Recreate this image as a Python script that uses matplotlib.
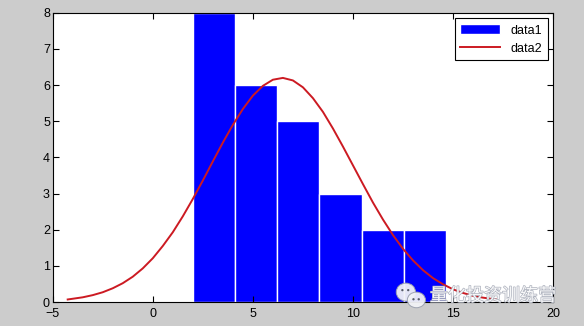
import matplotlib.pyplot as plt
import matplotlib.patheffects as pe
from matplotlib.patches import Ellipse

# histogram bins (edges) and counts
edges = [2.0, 4.1, 6.2, 8.3, 10.45, 12.55, 14.65]
counts = [8, 6, 5, 3, 2, 2]

# fitted curve
curve_x = [-4.25, -3.5, -3, -2.5, -2, -1.5, -1, -0.5, 0, 0.5, 1, 1.5, 2, 2.5, 3, 3.5,
           4, 4.5, 5, 5.5, 6, 6.5, 7, 7.5, 8, 8.5, 9, 9.5, 10, 10.5, 11, 11.5,
           12, 12.5, 13, 13.5, 14, 14.5, 15, 15.5, 16, 16.5, 17.15]
curve_y = [0.07, 0.13, 0.19, 0.27, 0.38, 0.52, 0.70, 0.93, 1.21, 1.55, 1.93, 2.37,
           2.85, 3.36, 3.89, 4.41, 4.90, 5.34, 5.71, 5.98, 6.15, 6.20, 6.13, 5.94,
           5.64, 5.26, 4.80, 4.30, 3.78, 3.26, 2.75, 2.28, 1.85, 1.47, 1.15, 0.88,
           0.66, 0.49, 0.35, 0.25, 0.17, 0.12, 0.07]

xticks = [-5, 0, 5, 10, 15, 20]
yticks = [0, 1, 2, 3, 4, 5, 6, 7, 8]

plt.rcParams['font.family'] = ['Liberation Sans', 'DejaVu Sans']

fig = plt.figure(figsize=(5.84, 3.26), dpi=100, facecolor='#cccccc')
ax = fig.add_axes([0.0902, 0.0736, 0.857, 0.887])

widths = [edges[i + 1] - edges[i] for i in range(len(counts))]
bars = ax.bar(edges[:-1], counts, width=widths, align='edge', color='#0000ff',
              edgecolor='white', linewidth=1.0, label='data1')
line, = ax.plot(curve_x, curve_y, color='#cc1a22', linewidth=1.4,
                solid_joinstyle='round', label='data2')

ax.set_xlim(-5, 20)
ax.set_ylim(0, 8)
ax.set_xticks(xticks)
ax.set_yticks(yticks)
ax.tick_params(direction='in', top=True, right=True, length=4, width=0.8,
               labelsize=9, pad=2)
ax.tick_params(axis='x', pad=4)
for s in ax.spines.values():
    s.set_linewidth(0.8)

leg = ax.legend([bars, line], ['data1', 'data2'], loc='upper right', fontsize=9,
                fancybox=False, framealpha=1, edgecolor='black',
                borderaxespad=0.45, handlelength=3.2, handleheight=0.9,
                borderpad=0.45, labelspacing=0.45)
leg.get_frame().set_linewidth(0.8)

# watermark
fig.text(0.736, 0.092, '量化投资训练营', family=['Noto Sans CJK SC', 'DejaVu Sans'],
         fontsize=13, color='white', alpha=0.9, va='center', ha='left',
         path_effects=[pe.withStroke(linewidth=1.0, foreground='#a4a9b6')])
for (cx, cy, w, h) in [(0.695, 0.104, 0.033, 0.055), (0.713, 0.08, 0.031, 0.048)]:
    fig.patches.append(Ellipse((cx, cy), w, h, transform=fig.transFigure,
                               facecolor='#f2f3f6', edgecolor='#9aa0ae',
                               linewidth=0.7, alpha=0.95))
for (ex, ey) in [(0.689, 0.11), (0.699, 0.11), (0.708, 0.082), (0.717, 0.082)]:
    fig.patches.append(Ellipse((ex, ey), 0.004, 0.007, transform=fig.transFigure,
                               facecolor='#555a66', edgecolor='none'))

fig.savefig('out.png', dpi=100, facecolor=fig.get_facecolor())
